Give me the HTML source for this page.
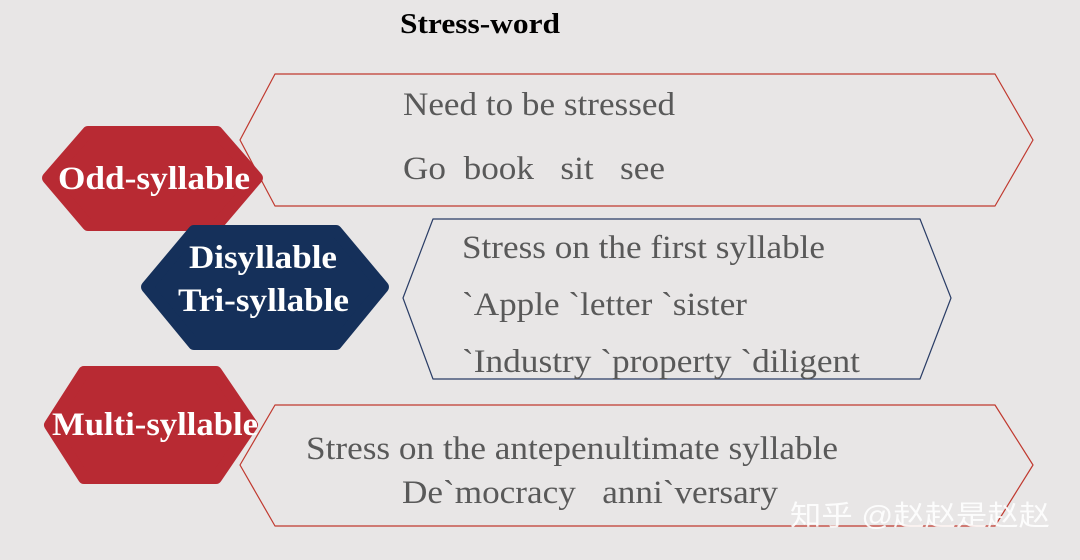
<!DOCTYPE html>
<html><head><style>
html,body{margin:0;padding:0;background:#e8e6e6;}
svg{display:block;}
.t{font-family:"Liberation Serif",serif;fill:#595959;font-size:33px;white-space:pre;}
.w{font-family:"Liberation Serif",serif;fill:#fff;font-weight:bold;font-size:33px;}
</style></head><body>
<svg width="1080" height="560" viewBox="0 0 1080 560" xmlns="http://www.w3.org/2000/svg">
<rect width="1080" height="560" fill="#e8e6e6"/>
<text x="400" y="33" font-family="Liberation Serif,serif" font-weight="bold" font-size="28" fill="#000" textLength="160" lengthAdjust="spacingAndGlyphs">Stress-word</text>

<polygon points="240,140 275,74 995,74 1033,140 995,206 275,206" fill="none" stroke="#c0392f" stroke-width="1.2" stroke-linejoin="round"/>
<polygon points="403,298 433,219 920,219 951,298 920,379 433,379" fill="none" stroke="#2a3d66" stroke-width="1.2" stroke-linejoin="round"/>
<polygon points="240,465 275,405 995,405 1033,465 995,526 275,526" fill="none" stroke="#c0392f" stroke-width="1.2" stroke-linejoin="round"/>

<polygon points="48,178 88,132 217,132 257,178 217,225 88,225" fill="#b82a33" stroke="#b82a33" stroke-width="12" stroke-linejoin="round"/>
<polygon points="147,287 194,231 336,231 383,287 336,344 194,344" fill="#15305a" stroke="#15305a" stroke-width="12" stroke-linejoin="round"/>
<polygon points="50,425 84,372 216,372 252,425 216,478 84,478" fill="#b82a33" stroke="#b82a33" stroke-width="12" stroke-linejoin="round"/>

<text class="w" x="58" y="189" textLength="192" lengthAdjust="spacingAndGlyphs">Odd-syllable</text>
<text class="w" x="189" y="268" textLength="148" lengthAdjust="spacingAndGlyphs">Disyllable</text>
<text class="w" x="178" y="311" textLength="171" lengthAdjust="spacingAndGlyphs">Tri-syllable</text>
<text class="w" x="52" y="435" textLength="206" lengthAdjust="spacingAndGlyphs">Multi-syllable</text>

<text class="t" x="403" y="115" textLength="272" lengthAdjust="spacingAndGlyphs">Need to be stressed</text>
<text class="t" x="403" y="179" textLength="262" lengthAdjust="spacingAndGlyphs">Go  book   sit   see</text>
<text class="t" x="462" y="258" textLength="363" lengthAdjust="spacingAndGlyphs">Stress on the first syllable</text>
<text class="t" x="462" y="315" textLength="285" lengthAdjust="spacingAndGlyphs">`Apple `letter `sister</text>
<text class="t" x="462" y="372" textLength="398" lengthAdjust="spacingAndGlyphs">`Industry `property `diligent</text>
<text class="t" x="306" y="459" textLength="532" lengthAdjust="spacingAndGlyphs">Stress on the antepenultimate syllable</text>
<text class="t" x="402" y="503" textLength="376" lengthAdjust="spacingAndGlyphs">De`mocracy   anni`versary</text>

<text x="790" y="525" font-family="Liberation Sans,Noto Sans CJK SC,sans-serif" font-size="28" fill="#ffffff" opacity="0.9" textLength="260" lengthAdjust="spacingAndGlyphs">知乎 @赵赵是赵赵</text>
</svg>
</body></html>
